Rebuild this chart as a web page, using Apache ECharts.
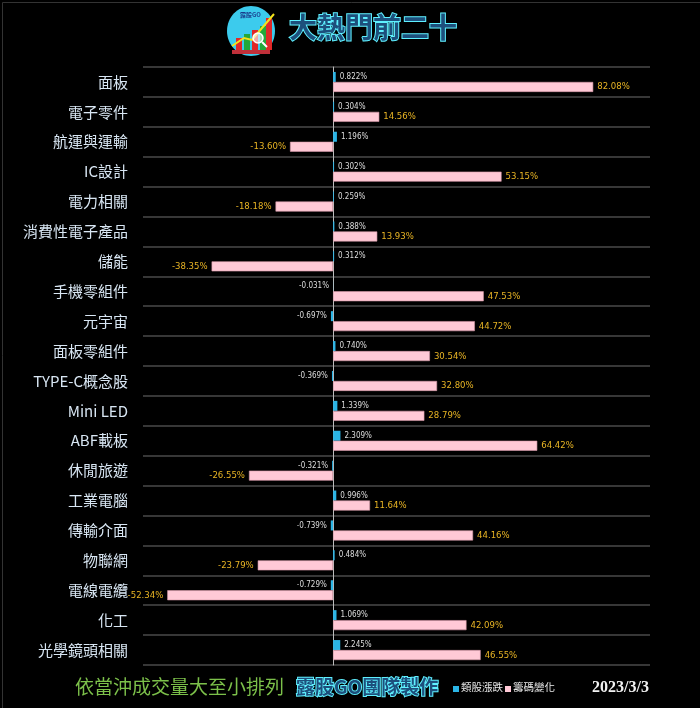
<!DOCTYPE html>
<html>
<head>
<meta charset="utf-8">
<script src="https://cdn.jsdelivr.net/npm/echarts@6/dist/echarts.min.js"></script>
<style>
html,body{margin:0;padding:0;background:#000;}
#c{width:700px;height:708px;}
</style>
</head>
<body>
<div id="c"></div>
<script>
var categories = ['面板','電子零件','航運與運輸','IC設計','電力相關','消費性電子產品','儲能','手機零組件','元宇宙','面板零組件','TYPE-C概念股','Mini LED','ABF載板','休閒旅遊','工業電腦','傳輸介面','物聯網','電線電纜','化工','光學鏡頭相關'];
var sectorChange = [0.822,0.304,1.196,0.302,0.259,0.388,0.312,-0.031,-0.697,0.740,-0.369,1.339,2.309,-0.321,0.996,-0.739,0.484,-0.729,1.069,2.245];
var chipChange = [82.08,14.56,-13.60,53.15,-18.18,13.93,-38.35,47.53,44.72,30.54,32.80,28.79,64.42,-26.55,11.64,44.16,-23.79,-52.34,42.09,46.55];
var seriesNames = ['類股漲跌','籌碼變化'];
var titleText = '大熱門前二十';
var footerNote = '依當沖成交量大至小排列';
var footerTeam = '露股GO團隊製作';
var dateText = '2023/3/3';

var chart = echarts.init(document.getElementById('c'));
var labelFont = '"DejaVu Sans Condensed",sans-serif';
function items(arr, digits, color, size) {
  return arr.map(function (v) {
    return {
      value: v,
      label: {
        show: true,
        position: v < 0 ? 'left' : 'right',
        distance: 4,
        color: color,
        fontSize: size,
        fontFamily: labelFont,
        formatter: function (p) { return p.value.toFixed(digits) + '%'; }
      }
    };
  });
}
var glowText = function (x, y, text, size) {
  return {
    type: 'text', left: x, top: y, z: 10,
    style: {
      text: text, fill: '#1d4f7c', stroke: '#5ff0ff', lineWidth: 2,
      font: 'bold ' + size + 'px "Noto Sans CJK TC"',
      shadowBlur: 8, shadowColor: '#2fe6ff'
    }
  };
};
var option = {
  backgroundColor: '#000',
  animation: false,
  grid: { left: 143, right: 50, top: 67, bottom: 43 },
  xAxis: {
    type: 'value', min: -60, max: 100,
    axisLine: { show: false }, axisTick: { show: false },
    axisLabel: { show: false }, splitLine: { show: false }
  },
  yAxis: {
    type: 'category', inverse: true, data: categories,
    axisLine: { show: true, onZero: true, lineStyle: { color: '#bbbbbb', width: 1 } },
    axisTick: { show: false },
    axisLabel: {
      color: '#d8e6f3', fontSize: 15, margin: 15,
      fontFamily: '"Noto Sans CJK TC",sans-serif'
    },
    splitLine: { show: true, lineStyle: { color: '#4a4a4a', width: 1.5 } }
  },
  series: [
    {
      name: seriesNames[0], type: 'bar', barWidth: 10, barGap: '0%',
      itemStyle: { color: '#2bb5e6' },
      data: items(sectorChange, 3, '#dddddd', 8)
    },
    {
      name: seriesNames[1], type: 'bar', barWidth: 10, barGap: '0%',
      itemStyle: { color: '#ffc9d6', borderColor: '#d89aaa', borderWidth: 0.6 },
      data: items(chipChange, 2, '#e8b424', 9.5)
    }
  ],
  graphic: [
    { type: 'rect', left: 0, top: 0, shape: { width: 699, height: 707 }, style: { fill: 'none', stroke: '#333', lineWidth: 1 }, silent: true },
    // logo
    { type: 'ellipse', shape: { cx: 251, cy: 31, rx: 24, ry: 25 }, style: { fill: '#3ccbed' } },
    { type: 'rect', shape: { x: 236, y: 38, width: 6, height: 12 }, style: { fill: '#e02828' } },
    { type: 'rect', shape: { x: 244, y: 34, width: 6, height: 16 }, style: { fill: '#22a83a' } },
    { type: 'rect', shape: { x: 252, y: 30, width: 6, height: 20 }, style: { fill: '#e02828' } },
    { type: 'rect', shape: { x: 260, y: 26, width: 6, height: 24 }, style: { fill: '#22a83a' } },
    { type: 'rect', shape: { x: 266, y: 18, width: 6, height: 32 }, style: { fill: '#e02828' } },
    { type: 'polyline', shape: { points: [[232, 46], [244, 38], [252, 40], [262, 28], [274, 14]] }, style: { stroke: '#f2e21a', lineWidth: 2, fill: 'none' } },
    { type: 'circle', shape: { cx: 258, cy: 38, r: 5 }, style: { fill: 'rgba(255,255,255,0.6)', stroke: '#ffffff', lineWidth: 1.5 } },
    { type: 'line', shape: { x1: 262, y1: 42, x2: 267, y2: 47 }, style: { stroke: '#ffffff', lineWidth: 2 } },
    { type: 'text', left: 240, top: 12, style: { text: '露股GO', fill: '#1a3c8c', font: 'bold 6px "Noto Sans CJK TC"' } },
    { type: 'rect', shape: { x: 232, y: 50, width: 38, height: 4 }, style: { fill: '#c0303a' } },
    glowText(288, 12, titleText, 28),
    // footer
    { type: 'text', left: 75, top: 677, style: { text: footerNote, fill: '#7cc04a', font: '19px "Noto Sans CJK TC"' } },
    glowText(295, 676, footerTeam, 19),
    { type: 'rect', shape: { x: 453, y: 686, width: 6, height: 6 }, style: { fill: '#2bb5e6' } },
    { type: 'text', left: 461, top: 682, style: { text: seriesNames[0], fill: '#e8e8e8', font: '10.5px "Noto Sans CJK TC"' } },
    { type: 'rect', shape: { x: 505, y: 686, width: 6, height: 6 }, style: { fill: '#ffc9d6' } },
    { type: 'text', left: 513, top: 682, style: { text: seriesNames[1], fill: '#e8e8e8', font: '10.5px "Noto Sans CJK TC"' } },
    { type: 'text', left: 592, top: 680, style: { text: dateText, fill: '#f2f2f2', font: 'bold 16px "Liberation Serif"' } }
  ]
};
chart.setOption(option);
</script>
</body>
</html>
